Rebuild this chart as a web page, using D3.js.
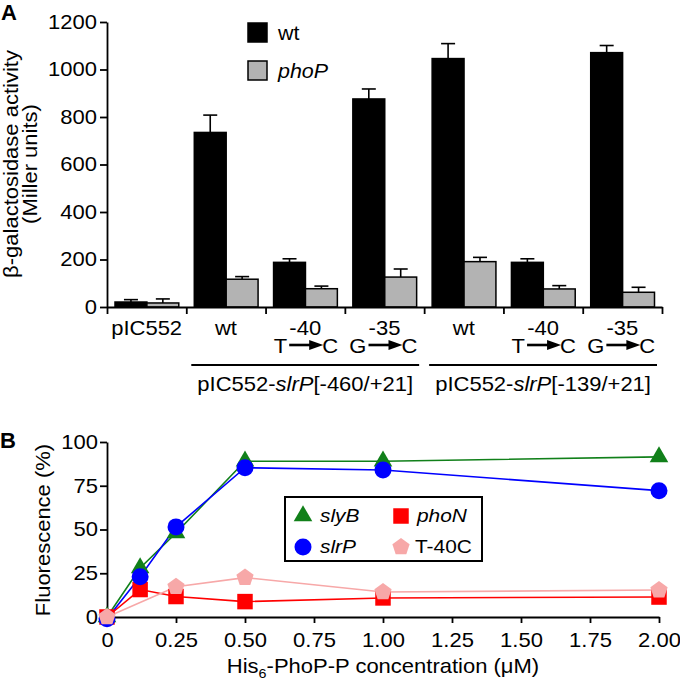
<!DOCTYPE html>
<html><head><meta charset="utf-8">
<script src="https://cdn.jsdelivr.net/npm/d3@7"></script>
<style>body{margin:0;background:#fff} svg text{font-family:"Liberation Sans",Arial,Helvetica,sans-serif;fill:#000}</style>
</head><body><svg id="c" width="680" height="680"></svg>
<script>
// ---------- Panel A data ----------
const groups = ['pIC552','wt','-40','-35','wt','-40','-35'];
const mutFrom = ['','','T','G','','T','G'];
const mutTo = ['','','C','C','','C','C'];
const wtValues = [21,735,188,876,1046,188,1071];
const wtErrors = [10,73,15,42,63,15,30];
const phoPValues = [17,117,77,126,191,76,62];
const phoPErrors = [17,11,11,34,18,14,21];
const yTicksA = [0,200,400,600,800,1000,1200];
const constructNames = ['[-460/+21]','[-139/+21]'];
const constructSpans = [[1,3],[4,6]];
// ---------- Panel B data ----------
const conc = [0,0.12,0.25,0.5,1,2];
const slyB = [0,28,48,89,89,91.5];
const slrP = [-1,23,51.5,85.3,84,72.2];
const phoN = [0,15.7,11.7,8.8,10.9,11.4];
const t40cConc = [0,0.25,0.5,1,2];
const t40c = [0,17.3,22.5,14.3,15.4];
const xTicksB = [0,0.25,0.5,0.75,1,1.25,1.5,1.75,2];
const yTicksB = [0,25,50,75,100];

const FS = 20, AX = 1.8, SX = 1.1;
const svg = d3.select('#c');

function styleAxis(g){
  g.attr('font-size',FS).attr('font-family','"Liberation Sans",Arial,sans-serif');
  g.selectAll('path,line').attr('stroke','#000').attr('stroke-width',AX);
  g.selectAll('text').attr('fill','#000');
}

// ================= Panel A =================
const A = svg.append('g');
const xA = d3.scaleBand().domain(d3.range(groups.length)).range([107,662]).paddingInner(0).paddingOuter(0);
const xSub = d3.scaleBand().domain(['wt','phoP']).range([8, xA.bandwidth()-7.5]);
const yA = d3.scaleLinear().domain([0,1200]).range([307,22]);

const seriesA = [
  {key:'wt', vals:wtValues, errs:wtErrors, fill:'#000'},
  {key:'phoP', vals:phoPValues, errs:phoPErrors, fill:'#b3b3b3'}
];
seriesA.forEach(s=>{
  const data = s.vals.map((v,i)=>({i, v, e:s.errs[i]}));
  const cx = d => xA(d.i)+xSub(s.key)+xSub.bandwidth()/2;
  const g = A.append('g');
  g.selectAll('line.eb').data(data).join('line').attr('class','eb')
    .attr('x1',cx).attr('x2',cx).attr('y1',d=>yA(d.v)).attr('y2',d=>yA(d.v+d.e))
    .attr('stroke','#000').attr('stroke-width',1.6);
  g.selectAll('line.cap').data(data).join('line').attr('class','cap')
    .attr('x1',d=>cx(d)-7).attr('x2',d=>cx(d)+7).attr('y1',d=>yA(d.v+d.e)).attr('y2',d=>yA(d.v+d.e))
    .attr('stroke','#000').attr('stroke-width',1.6);
  g.selectAll('rect').data(data).join('rect')
    .attr('x',d=>xA(d.i)+xSub(s.key)).attr('width',xSub.bandwidth())
    .attr('y',d=>yA(d.v)).attr('height',d=>yA(0)-yA(d.v))
    .attr('fill',s.fill).attr('stroke','#000').attr('stroke-width',1.5);
});

A.append('g').attr('transform','translate(107,0)')
  .call(d3.axisLeft(yA).tickValues(yTicksA).tickFormat(d3.format('d')).tickSize(7).tickPadding(3).tickSizeOuter(0))
  .call(styleAxis);

const xBound = d3.scaleLinear().domain([0,groups.length]).range(xA.range());
A.append('g').attr('transform','translate(0,307)')
  .call(d3.axisBottom(xBound).tickValues(d3.range(groups.length+1)).tickFormat('').tickSize(7).tickSizeOuter(0))
  .call(styleAxis);

const lab = A.append('g').attr('transform','translate(0,307)')
  .call(d3.axisBottom(xA).tickFormat(i=>groups[i]).tickSize(0).tickPadding(14))
  .call(styleAxis);
lab.select('.domain').remove();

// mutation row
const mutG = A.append('g');
groups.forEach((g,i)=>{
  if(!mutFrom[i]) return;
  const cx = xA(i)+xA.bandwidth()/2, by = 353, ay = 345;
  mutG.append('text').attr('x',cx-18).attr('y',by).attr('text-anchor','end').attr('font-size',FS).text(mutFrom[i]);
  mutG.append('line').attr('x1',cx-16).attr('x2',cx+8).attr('y1',ay).attr('y2',ay).attr('stroke','#000').attr('stroke-width',2.6);
  mutG.append('path').attr('d',`M${cx+4},${ay-5}L${cx+18},${ay}L${cx+4},${ay+5}Z`).attr('fill','#000');
  mutG.append('text').attr('x',cx+17).attr('y',by).attr('font-size',FS).text(mutTo[i]);
});

// construct brackets
constructSpans.forEach((sp,k)=>{
  const x0 = xA(sp[0])+5, x1 = xA(sp[1])+xA.bandwidth()-5;
  A.append('line').attr('x1',x0).attr('x2',x1).attr('y1',365).attr('y2',365).attr('stroke','#000').attr('stroke-width',1.8);
  const t = A.append('text').attr('x',(x0+x1)/2).attr('y',391).attr('text-anchor','middle').attr('font-size',FS);
  t.append('tspan').text('pIC552-');
  t.append('tspan').attr('font-style','italic').text('slrP');
  t.append('tspan').text(constructNames[k]);
});

// legend A
const legA = A.append('g');
seriesA.forEach((s,k)=>{
  const y = 23 + k*38;
  legA.append('rect').attr('x',248).attr('y',y).attr('width',19).attr('height',19)
    .attr('fill',s.fill).attr('stroke','#000').attr('stroke-width',1.5);
  legA.append('text').attr('x',278).attr('y',y+17).attr('font-size',19.5)
    .attr('font-style',s.key==='phoP'?'italic':'normal').text(s.key);
});

// y label A
const yl = A.append('text').attr('class','rot').attr('transform','translate(18,164) rotate(-90)').attr('text-anchor','middle').attr('font-size',FS);
yl.append('tspan').attr('x',0).attr('y',0).text('β-galactosidase activity');
yl.append('tspan').attr('x',0).attr('y',19).text('(Miller units)');

A.append('text').attr('class','nost').attr('x',1).attr('y',20).attr('font-size',22).attr('font-weight','bold').text('A');

// ================= Panel B =================
const B = svg.append('g');
const xB = d3.scaleLinear().domain([0,2]).range([107,659]);
const yB = d3.scaleLinear().domain([0,100]).range([617,442]);

B.append('g').attr('transform','translate(107,0)')
  .call(d3.axisLeft(yB).tickValues(yTicksB).tickSize(7).tickPadding(2).tickSizeOuter(0))
  .call(styleAxis);
B.append('g').attr('transform','translate(0,617)')
  .call(d3.axisBottom(xB).tickValues(xTicksB).tickFormat(d=>d===0?'0':d3.format('.2f')(d)).tickSize(6).tickPadding(10).tickSizeOuter(0))
  .call(styleAxis);

const symbolPentagon = {draw(ctx,size){
  const r = Math.sqrt(size/(2.5*Math.sin(2*Math.PI/5)));
  for(let i=0;i<5;i++){const a=-Math.PI/2+i*2*Math.PI/5;const x=r*Math.cos(a),y=r*Math.sin(a); if(i) ctx.lineTo(x,y); else ctx.moveTo(x,y);}
  ctx.closePath();
}};

const seriesB = [
  {name:'phoN', xs:conc, ys:phoN, color:'#ff0000', sym:d3.symbolSquare, size:240},
  {name:'slyB', xs:conc, ys:slyB, color:'#11801a', sym:d3.symbolTriangle, size:150},
  {name:'slrP', xs:conc, ys:slrP, color:'#0000ff', sym:d3.symbolCircle, size:227},
  {name:'T-40C', xs:t40cConc, ys:t40c, color:'#f7a8a8', sym:symbolPentagon, size:195}
];
const line = d3.line().x(d=>xB(d[0])).y(d=>yB(d[1]));
seriesB.forEach(s=>{
  B.append('path').datum(s.xs.map((x,i)=>[x,s.ys[i]])).attr('d',line)
    .attr('fill','none').attr('stroke',s.color).attr('stroke-width',1.6);
});
seriesB.forEach(s=>{
  B.append('g').selectAll('path').data(s.xs.map((x,i)=>[x,s.ys[i]])).join('path')
    .attr('transform',d=>`translate(${xB(d[0])},${yB(d[1])})`)
    .attr('d',d3.symbol().type(s.sym).size(s.size)).attr('fill',s.color);
});

// legend B
const legB = B.append('g');
legB.append('rect').attr('x',285).attr('y',497).attr('width',197).attr('height',64)
  .attr('fill','#fff').attr('stroke','#000').attr('stroke-width',2);
const legOrder = [['slyB',303,516,320,522,true],['slrP',303,547,320,553,true],['phoN',401,516,417,522,true],['T-40C',401,547,415,553,false]];
legOrder.forEach(([nm,mx,my,tx,ty,it])=>{
  const s = seriesB.find(d=>d.name===nm);
  legB.append('path').attr('transform',`translate(${mx},${my})`).attr('d',d3.symbol().type(s.sym).size(s.size)).attr('fill',s.color);
  legB.append('text').attr('x',tx).attr('y',ty).attr('font-size',19).attr('font-style',it?'italic':'normal').text(nm);
});

// axis labels B
const xl = B.append('text').attr('x',383).attr('y',673).attr('text-anchor','middle').attr('font-size',FS);
xl.append('tspan').text('His');
xl.append('tspan').attr('font-size',13).attr('dy',5).text('6');
xl.append('tspan').attr('dy',-5).text('-PhoP-P concentration (μM)');

B.append('text').attr('class','rot').attr('transform','translate(50,530) rotate(-90)').attr('text-anchor','middle').attr('font-size',FS).text('Fluorescence (%)');
B.append('text').attr('class','nost').attr('x',0).attr('y',448).attr('font-size',22).attr('font-weight','bold').text('B');

// widen glyphs horizontally (along the text direction) to match the reference typeface
svg.selectAll('text').each(function(){
  const t = d3.select(this);
  if(t.classed('nost')) return;
  if(t.classed('rot')){ t.attr('transform', t.attr('transform')+` scale(${SX},1)`); return; }
  const x = +(t.attr('x')||0);
  t.attr('transform',`translate(${x*(1-SX)},0) scale(${SX},1)`);
});
</script></body></html>
